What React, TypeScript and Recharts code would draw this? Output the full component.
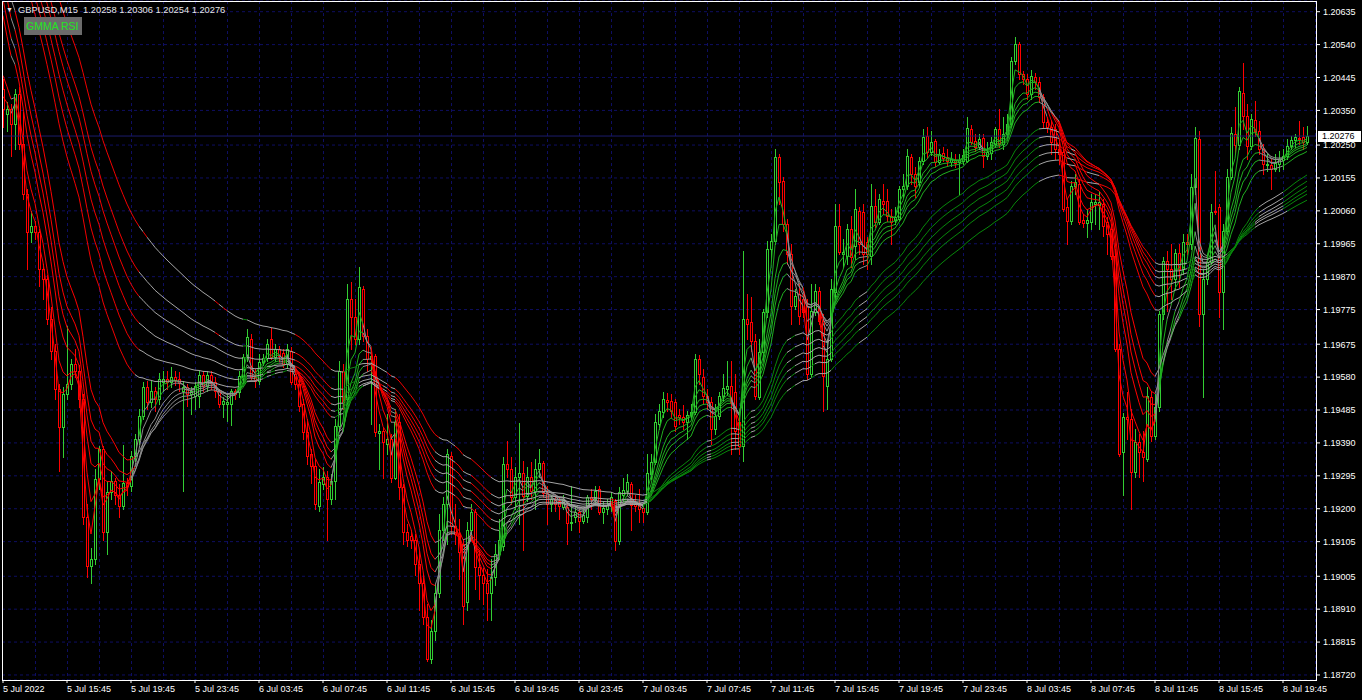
import { ComposedChart, Bar, Line, XAxis, YAxis, CartesianGrid, ReferenceLine } from 'recharts';

// GBPUSD M15, 5 Jul 2022 11:45 .. 8 Jul 2022 21:15, one value per bar
const opens = [
  1.20412, 1.20340, 1.20354, 1.20311, 1.20397, 1.20253, 1.20108, 1.19999, 1.20016, 1.19999,
  1.19892, 1.19863, 1.19747, 1.19655, 1.19545, 1.19435, 1.19530, 1.19559, 1.19617, 1.19597,
  1.19516, 1.19175, 1.19036, 1.19054, 1.19285, 1.19372, 1.19132, 1.19247, 1.19279, 1.19241,
  1.19207, 1.19273, 1.19265, 1.19351, 1.19400, 1.19467, 1.19551, 1.19507, 1.19539, 1.19516,
  1.19565, 1.19574, 1.19565, 1.19580, 1.19574, 1.19539, 1.19551, 1.19530, 1.19525, 1.19525,
  1.19585, 1.19553, 1.19585, 1.19565, 1.19539, 1.19502, 1.19502, 1.19502, 1.19539, 1.19536,
  1.19580, 1.19637, 1.19689, 1.19580, 1.19568, 1.19623, 1.19634, 1.19689, 1.19637, 1.19661,
  1.19649, 1.19617, 1.19655, 1.19588, 1.19559, 1.19502, 1.19421, 1.19357, 1.19322, 1.19207,
  1.19270, 1.19293, 1.19227, 1.19279, 1.19438, 1.19597, 1.19516, 1.19805, 1.19753, 1.19689,
  1.19834, 1.19698, 1.19632, 1.19640, 1.19418, 1.19424, 1.19386, 1.19400, 1.19290, 1.19450,
  1.19262, 1.19132, 1.19120, 1.19111, 1.19039, 1.18987, 1.18886, 1.18765, 1.18846, 1.18958,
  1.19140, 1.19213, 1.19351, 1.19149, 1.19126, 1.19097, 1.18932, 1.19140, 1.19190, 1.19033,
  1.19010, 1.18987, 1.18958, 1.19004, 1.19068, 1.19091, 1.19328, 1.19314, 1.19233, 1.19293,
  1.19302, 1.19236, 1.19293, 1.19250, 1.19314, 1.19331, 1.19244, 1.19213, 1.19227, 1.19221,
  1.19204, 1.19204, 1.19160, 1.19175, 1.19190, 1.19166, 1.19175, 1.19233, 1.19227, 1.19256,
  1.19190, 1.19198, 1.19207, 1.19221, 1.19106, 1.19239, 1.19250, 1.19270, 1.19213, 1.19210,
  1.19201, 1.19190, 1.19299, 1.19334, 1.19444, 1.19478, 1.19513, 1.19510, 1.19507, 1.19470,
  1.19464, 1.19450, 1.19470, 1.19478, 1.19632, 1.19580, 1.19525, 1.19507, 1.19429, 1.19467,
  1.19525, 1.19545, 1.19553, 1.19536, 1.19450, 1.19380, 1.19747, 1.19739, 1.19684, 1.19522,
  1.19652, 1.19767, 1.19950, 1.19973, 1.20215, 1.20146, 1.20022, 1.19935, 1.19785, 1.19819,
  1.19805, 1.19785, 1.19588, 1.19767, 1.19828, 1.19741, 1.19553, 1.19632, 1.19825, 1.20016,
  1.19935, 1.19929, 1.20007, 1.19958, 1.20059, 1.20056, 1.19970, 1.19929, 1.20074, 1.20027,
  1.20088, 1.20088, 1.20045, 1.20033, 1.20036, 1.20123, 1.20132, 1.20215, 1.20166, 1.20143,
  1.20204, 1.20276, 1.20230, 1.20262, 1.20201, 1.20227, 1.20215, 1.20201, 1.20207, 1.20201,
  1.20204, 1.20204, 1.20296, 1.20262, 1.20244, 1.20270, 1.20218, 1.20227, 1.20253, 1.20296,
  1.20253, 1.20282, 1.20311, 1.20493, 1.20542, 1.20455, 1.20441, 1.20397, 1.20447, 1.20432,
  1.20389, 1.20316, 1.20302, 1.20296, 1.20239, 1.20230, 1.20071, 1.20030, 1.20132, 1.20137,
  1.20033, 1.20025, 1.20028, 1.20080, 1.20077, 1.20080, 1.20028, 1.20007, 1.19929, 1.19661,
  1.19363, 1.19464, 1.19458, 1.19305, 1.19392, 1.19363, 1.19343, 1.19522, 1.19409, 1.19493,
  1.19762, 1.19915, 1.19892, 1.19863, 1.19938, 1.19892, 1.19970, 1.19964, 1.20129, 1.20267,
  1.19762, 1.19863, 1.19912, 1.20059, 1.20071, 1.19825, 1.20002, 1.20158, 1.20282, 1.20250,
  1.20400, 1.20334, 1.20247, 1.20322, 1.20290, 1.20239, 1.20192, 1.20192, 1.20181, 1.20195,
  1.20207, 1.20218, 1.20247, 1.20264, 1.20270, 1.20273, 1.20258,
];

const highs = [
  1.20441, 1.20374, 1.20369, 1.20412, 1.20418, 1.20345, 1.20123, 1.20059, 1.20030, 1.20007,
  1.19906, 1.19874, 1.19782, 1.19675, 1.19559, 1.19551, 1.19727, 1.19632, 1.19661, 1.19614,
  1.19530, 1.19213, 1.19088, 1.19314, 1.19380, 1.19380, 1.19276, 1.19308, 1.19290, 1.19270,
  1.19383, 1.19290, 1.19366, 1.19415, 1.19487, 1.19565, 1.19568, 1.19568, 1.19551, 1.19591,
  1.19597, 1.19597, 1.19609, 1.19597, 1.19594, 1.19568, 1.19559, 1.19551, 1.19565, 1.19597,
  1.19597, 1.19597, 1.19597, 1.19580, 1.19545, 1.19522, 1.19530, 1.19545, 1.19545, 1.19597,
  1.19646, 1.19718, 1.19704, 1.19603, 1.19646, 1.19646, 1.19689, 1.19721, 1.19675, 1.19669,
  1.19661, 1.19675, 1.19666, 1.19603, 1.19574, 1.19516, 1.19458, 1.19372, 1.19343, 1.19314,
  1.19320, 1.19308, 1.19299, 1.19458, 1.19626, 1.19617, 1.19848, 1.19854, 1.19805, 1.19898,
  1.19843, 1.19718, 1.19655, 1.19646, 1.19444, 1.19435, 1.19473, 1.19415, 1.19487, 1.19473,
  1.19270, 1.19155, 1.19140, 1.19126, 1.19082, 1.19010, 1.18924, 1.18880, 1.18981, 1.19184,
  1.19233, 1.19372, 1.19363, 1.19213, 1.19169, 1.19111, 1.19163, 1.19213, 1.19198, 1.19082,
  1.19030, 1.19025, 1.19054, 1.19097, 1.19169, 1.19348, 1.19395, 1.19348, 1.19320, 1.19447,
  1.19337, 1.19320, 1.19334, 1.19343, 1.19372, 1.19337, 1.19265, 1.19241, 1.19239, 1.19233,
  1.19241, 1.19219, 1.19265, 1.19204, 1.19204, 1.19198, 1.19241, 1.19256, 1.19265, 1.19265,
  1.19219, 1.19227, 1.19247, 1.19227, 1.19262, 1.19290, 1.19299, 1.19276, 1.19241, 1.19256,
  1.19213, 1.19357, 1.19357, 1.19473, 1.19502, 1.19536, 1.19533, 1.19530, 1.19516, 1.19487,
  1.19499, 1.19481, 1.19502, 1.19646, 1.19643, 1.19603, 1.19545, 1.19522, 1.19502, 1.19536,
  1.19588, 1.19626, 1.19626, 1.19588, 1.19473, 1.19944, 1.19819, 1.19811, 1.19704, 1.19689,
  1.19776, 1.19973, 1.19993, 1.20239, 1.20224, 1.20158, 1.20036, 1.19964, 1.19834, 1.19848,
  1.19819, 1.19805, 1.19848, 1.19848, 1.19840, 1.19762, 1.19689, 1.19863, 1.20080, 1.20080,
  1.19978, 1.20022, 1.20045, 1.20123, 1.20071, 1.20080, 1.19984, 1.20137, 1.20123, 1.20108,
  1.20137, 1.20123, 1.20065, 1.20071, 1.20132, 1.20166, 1.20239, 1.20224, 1.20187, 1.20215,
  1.20296, 1.20302, 1.20290, 1.20267, 1.20239, 1.20244, 1.20239, 1.20230, 1.20224, 1.20224,
  1.20239, 1.20331, 1.20308, 1.20282, 1.20282, 1.20282, 1.20259, 1.20273, 1.20302, 1.20354,
  1.20331, 1.20340, 1.20504, 1.20562, 1.20548, 1.20464, 1.20455, 1.20467, 1.20458, 1.20447,
  1.20397, 1.20331, 1.20319, 1.20311, 1.20259, 1.20244, 1.20094, 1.20146, 1.20166, 1.20152,
  1.20051, 1.20065, 1.20108, 1.20108, 1.20117, 1.20094, 1.20042, 1.20022, 1.19950, 1.19675,
  1.19476, 1.19536, 1.19487, 1.19429, 1.19415, 1.19424, 1.19551, 1.19539, 1.19530, 1.19770,
  1.19926, 1.19944, 1.19964, 1.19950, 1.19964, 1.19993, 1.19993, 1.20166, 1.20302, 1.20290,
  1.19892, 1.19935, 1.20080, 1.20175, 1.20080, 1.20022, 1.20181, 1.20302, 1.20360, 1.20418,
  1.20487, 1.20369, 1.20340, 1.20377, 1.20319, 1.20253, 1.20224, 1.20210, 1.20224, 1.20233,
  1.20239, 1.20267, 1.20276, 1.20282, 1.20319, 1.20302, 1.20306,
];

const lows = [
  1.20302, 1.20290, 1.20218, 1.20239, 1.20239, 1.20094, 1.19892, 1.19970, 1.19978, 1.19843,
  1.19805, 1.19733, 1.19632, 1.19516, 1.19308, 1.19348, 1.19516, 1.19545, 1.19580, 1.19493,
  1.19155, 1.19002, 1.18987, 1.19039, 1.19256, 1.19111, 1.19068, 1.19227, 1.19213, 1.19175,
  1.19198, 1.19241, 1.19250, 1.19337, 1.19386, 1.19458, 1.19487, 1.19493, 1.19481, 1.19502,
  1.19539, 1.19545, 1.19551, 1.19556, 1.19539, 1.19250, 1.19496, 1.19473, 1.19487, 1.19493,
  1.19539, 1.19539, 1.19545, 1.19522, 1.19493, 1.19464, 1.19452, 1.19441, 1.19516, 1.19522,
  1.19559, 1.19626, 1.19574, 1.19551, 1.19559, 1.19614, 1.19626, 1.19632, 1.19626, 1.19626,
  1.19608, 1.19608, 1.19559, 1.19545, 1.19481, 1.19400, 1.19328, 1.19273, 1.19198, 1.19192,
  1.19256, 1.19111, 1.19213, 1.19227, 1.19424, 1.19487, 1.19502, 1.19661, 1.19675, 1.19675,
  1.19684, 1.19597, 1.19444, 1.19409, 1.19314, 1.19290, 1.19357, 1.19276, 1.19285, 1.19227,
  1.19097, 1.19091, 1.19088, 1.19010, 1.18909, 1.18866, 1.18759, 1.18756, 1.18822, 1.18944,
  1.19111, 1.19097, 1.19126, 1.19097, 1.18996, 1.18866, 1.18909, 1.19111, 1.18967, 1.18938,
  1.18924, 1.18880, 1.18880, 1.18981, 1.19054, 1.19082, 1.19291, 1.19213, 1.19198, 1.19155,
  1.19082, 1.19221, 1.19227, 1.19198, 1.19291, 1.19233, 1.19155, 1.19192, 1.19192, 1.19169,
  1.19198, 1.19097, 1.19140, 1.19163, 1.19132, 1.19160, 1.19163, 1.19198, 1.19213, 1.19184,
  1.19160, 1.19184, 1.19192, 1.19082, 1.19097, 1.19221, 1.19241, 1.19140, 1.19192, 1.19163,
  1.19163, 1.19184, 1.19285, 1.19328, 1.19429, 1.19464, 1.19481, 1.19464, 1.19424, 1.19444,
  1.19429, 1.19400, 1.19458, 1.19473, 1.19559, 1.19502, 1.19487, 1.19386, 1.19415, 1.19458,
  1.19510, 1.19530, 1.19357, 1.19372, 1.19357, 1.19337, 1.19689, 1.19655, 1.19516, 1.19516,
  1.19632, 1.19753, 1.19921, 1.19964, 1.20080, 1.20002, 1.19906, 1.19733, 1.19776, 1.19733,
  1.19753, 1.19574, 1.19580, 1.19759, 1.19733, 1.19481, 1.19487, 1.19626, 1.19805, 1.19935,
  1.19898, 1.19906, 1.19898, 1.19921, 1.19935, 1.19906, 1.19892, 1.19906, 1.20013, 1.20022,
  1.20051, 1.20030, 1.19964, 1.20022, 1.20030, 1.20100, 1.20123, 1.20137, 1.20100, 1.20129,
  1.20195, 1.20215, 1.20221, 1.20189, 1.20195, 1.20204, 1.20189, 1.20189, 1.20187, 1.20108,
  1.20195, 1.20201, 1.20253, 1.20233, 1.20239, 1.20187, 1.20210, 1.20210, 1.20244, 1.20244,
  1.20239, 1.20273, 1.20302, 1.20484, 1.20441, 1.20426, 1.20383, 1.20383, 1.20412, 1.20374,
  1.20302, 1.20288, 1.20224, 1.20210, 1.20195, 1.20059, 1.19964, 1.20022, 1.20108, 1.20022,
  1.20013, 1.19984, 1.20007, 1.20022, 1.20007, 1.19987, 1.19935, 1.19921, 1.19655, 1.19351,
  1.19239, 1.19400, 1.19198, 1.19291, 1.19291, 1.19279, 1.19337, 1.19395, 1.19400, 1.19481,
  1.19747, 1.19770, 1.19805, 1.19834, 1.19840, 1.19877, 1.19935, 1.19950, 1.20108, 1.19727,
  1.19522, 1.19848, 1.19906, 1.20051, 1.19753, 1.19718, 1.19993, 1.20152, 1.20224, 1.20239,
  1.20296, 1.20210, 1.20239, 1.20276, 1.20224, 1.20166, 1.20175, 1.20123, 1.20175, 1.20175,
  1.20181, 1.20210, 1.20239, 1.20244, 1.20253, 1.20239, 1.20254,
];

const closes = [
  1.20354, 1.20354, 1.20311, 1.20397, 1.20253, 1.20108, 1.19999, 1.20016, 1.19999, 1.19892,
  1.19863, 1.19747, 1.19655, 1.19545, 1.19435, 1.19530, 1.19559, 1.19617, 1.19597, 1.19516,
  1.19175, 1.19036, 1.19054, 1.19285, 1.19372, 1.19132, 1.19247, 1.19279, 1.19241, 1.19207,
  1.19273, 1.19265, 1.19351, 1.19400, 1.19467, 1.19551, 1.19507, 1.19539, 1.19516, 1.19574,
  1.19574, 1.19565, 1.19580, 1.19571, 1.19562, 1.19551, 1.19530, 1.19539, 1.19553, 1.19585,
  1.19553, 1.19585, 1.19565, 1.19539, 1.19502, 1.19510, 1.19507, 1.19539, 1.19530, 1.19582,
  1.19637, 1.19695, 1.19580, 1.19568, 1.19623, 1.19634, 1.19675, 1.19637, 1.19661, 1.19640,
  1.19617, 1.19661, 1.19565, 1.19559, 1.19496, 1.19421, 1.19351, 1.19322, 1.19213, 1.19276,
  1.19293, 1.19227, 1.19279, 1.19438, 1.19597, 1.19507, 1.19805, 1.19753, 1.19689, 1.19840,
  1.19698, 1.19632, 1.19640, 1.19421, 1.19424, 1.19392, 1.19400, 1.19290, 1.19450, 1.19262,
  1.19132, 1.19111, 1.19111, 1.19039, 1.18987, 1.18886, 1.18765, 1.18846, 1.18958, 1.19140,
  1.19213, 1.19357, 1.19149, 1.19126, 1.19074, 1.18918, 1.19140, 1.19190, 1.19033, 1.19010,
  1.18987, 1.18958, 1.19004, 1.19068, 1.19111, 1.19328, 1.19314, 1.19233, 1.19293, 1.19302,
  1.19236, 1.19293, 1.19250, 1.19314, 1.19331, 1.19244, 1.19213, 1.19227, 1.19213, 1.19207,
  1.19227, 1.19160, 1.19163, 1.19190, 1.19166, 1.19181, 1.19233, 1.19227, 1.19250, 1.19190,
  1.19201, 1.19210, 1.19233, 1.19106, 1.19247, 1.19253, 1.19276, 1.19210, 1.19207, 1.19198,
  1.19190, 1.19302, 1.19334, 1.19450, 1.19481, 1.19516, 1.19507, 1.19481, 1.19438, 1.19464,
  1.19450, 1.19470, 1.19478, 1.19632, 1.19588, 1.19525, 1.19507, 1.19429, 1.19467, 1.19525,
  1.19548, 1.19553, 1.19507, 1.19424, 1.19380, 1.19747, 1.19733, 1.19684, 1.19525, 1.19652,
  1.19767, 1.19950, 1.19973, 1.20215, 1.20143, 1.20022, 1.19935, 1.19785, 1.19814, 1.19756,
  1.19767, 1.19588, 1.19770, 1.19828, 1.19741, 1.19582, 1.19632, 1.19834, 1.20016, 1.19941,
  1.19941, 1.20007, 1.19927, 1.20065, 1.19964, 1.19935, 1.19935, 1.20074, 1.20027, 1.20094,
  1.20080, 1.20045, 1.20027, 1.20042, 1.20123, 1.20132, 1.20218, 1.20166, 1.20132, 1.20204,
  1.20273, 1.20230, 1.20259, 1.20201, 1.20224, 1.20213, 1.20204, 1.20210, 1.20198, 1.20207,
  1.20221, 1.20299, 1.20259, 1.20244, 1.20267, 1.20218, 1.20230, 1.20259, 1.20296, 1.20253,
  1.20282, 1.20311, 1.20493, 1.20542, 1.20455, 1.20441, 1.20397, 1.20449, 1.20432, 1.20389,
  1.20316, 1.20302, 1.20259, 1.20239, 1.20224, 1.20065, 1.20030, 1.20132, 1.20143, 1.20027,
  1.20025, 1.20033, 1.20085, 1.20085, 1.20085, 1.20016, 1.19993, 1.19929, 1.19661, 1.19357,
  1.19464, 1.19458, 1.19305, 1.19392, 1.19363, 1.19348, 1.19525, 1.19409, 1.19493, 1.19762,
  1.19915, 1.19892, 1.19863, 1.19938, 1.19892, 1.19970, 1.19964, 1.20129, 1.20270, 1.19762,
  1.19863, 1.19912, 1.20056, 1.20056, 1.19825, 1.20002, 1.20158, 1.20285, 1.20250, 1.20406,
  1.20334, 1.20247, 1.20325, 1.20290, 1.20239, 1.20195, 1.20195, 1.20181, 1.20198, 1.20210,
  1.20218, 1.20247, 1.20264, 1.20273, 1.20267, 1.20259, 1.20276,
];

// GMMA: six short and six long exponential averages of the close
const emaPeriods = [3, 5, 8, 10, 12, 15, 30, 35, 40, 45, 50, 60];
// average values carried in from the bars before the first visible one
const emaSeeds = [1.20426, 1.20499, 1.20701, 1.20741, 1.20799, 1.20837, 1.20999, 1.21019, 1.21035, 1.2107, 1.2109, 1.2114];
// RSI length used to colour each average (rising / neutral / falling)
const rsiPeriods = [12, 13, 14, 14, 15, 16, 18, 19, 20, 21, 22, 23];

const priceTicks = [
  1.20635, 1.2054, 1.20445, 1.2035, 1.2025, 1.20155, 1.2006, 1.19965, 1.1987, 1.19775, 1.19675,
  1.1958, 1.19485, 1.1939, 1.19295, 1.192, 1.19105, 1.19005, 1.1891, 1.18815, 1.1872,
];
const timeTicks = [0, 16, 32, 48, 64, 80, 96, 112, 128, 144, 160, 176, 192, 208, 224, 240, 256, 272, 288, 304, 320];
const timeLabels = [
  '5 Jul 2022', '5 Jul 15:45', '5 Jul 19:45', '5 Jul 23:45', '6 Jul 03:45', '6 Jul 07:45', '6 Jul 11:45',
  '6 Jul 15:45', '6 Jul 19:45', '6 Jul 23:45', '7 Jul 03:45', '7 Jul 07:45', '7 Jul 11:45', '7 Jul 15:45',
  '7 Jul 19:45', '7 Jul 23:45', '8 Jul 03:45', '8 Jul 07:45', '8 Jul 11:45', '8 Jul 15:45', '8 Jul 19:45',
];
const gridBars = Array.from({ length: 41 }, (_, k) => 8 * (k + 1));

const symbol = 'GBPUSD,M15';
const indicatorName = 'GMMA RSI';
const bid = closes[closes.length - 1];

const FONT = '"Liberation Sans", Arial, sans-serif';
const Y_DOMAIN: [number, number] = [1.187055, 1.206659];
const X_DOMAIN: [number, number] = [-0.25, 328.5];

const palette = {
  short: { up: '#1fae1f', flat: '#8c8c8c', down: '#ff0000' },
  long: { up: '#07860a', flat: '#a4a4a4', down: '#f00000' },
};

function emaSeries(period: number, seed: number) {
  const a = 2 / (period + 1);
  let v = seed;
  return closes.map((c) => (v = v + a * (c - v)));
}

function rsiStates(period: number) {
  let g = 0;
  let l = 0;
  return closes.map((c, i) => {
    const d = c - (i === 0 ? opens[0] : closes[i - 1]);
    g += (Math.max(d, 0) - g) / period;
    l += (Math.max(-d, 0) - l) / period;
    const r = l === 0 ? 100 : 100 - 100 / (1 + g / l);
    return r > 55 ? 'up' : r < 45 ? 'down' : 'flat';
  });
}

const emas = emaPeriods.map((p, k) => emaSeries(p, emaSeeds[k]));

const rows = closes.map((c, i) => {
  const row: any = { i, open: opens[i], high: highs[i], low: lows[i], close: c, range: [lows[i], highs[i]] };
  emas.forEach((e, k) => (row[`ema${k}`] = e[i]));
  return row;
});

function gradientStops(k: number) {
  const states = rsiStates(rsiPeriods[k]);
  const pal: any = k < 6 ? palette.short : palette.long;
  const n = states.length;
  const stops: { o: number; c: string }[] = [];
  let cur = states[1];
  stops.push({ o: 0, c: pal[cur] });
  for (let i = 2; i < n; i++) {
    if (states[i] !== cur) {
      const o = (i - 1) / (n - 1);
      stops.push({ o, c: pal[cur] }, { o, c: pal[states[i]] });
      cur = states[i];
    }
  }
  stops.push({ o: 1, c: pal[cur] });
  return stops;
}

function Candle(props: any) {
  const { x, y, width, height, payload } = props;
  if (x == null || !payload) return null;
  const top = Math.min(y, y + height);
  const h = Math.abs(height);
  const cx = Math.round(x + width / 2);
  const span = payload.high - payload.low;
  const k = span > 0 ? h / span : 0;
  const yOf = (v: number) => top + (payload.high - v) * k;
  const up = payload.close >= payload.open;
  const color = up ? '#32cd32' : '#ff0000';
  const bTop = Math.round(yOf(Math.max(payload.open, payload.close)));
  const bBot = Math.round(yOf(Math.min(payload.open, payload.close)));
  return (
    <g>
      <line x1={cx + 0.5} x2={cx + 0.5} y1={Math.round(top)} y2={Math.round(top + h) + 1} stroke={color} />
      <rect x={cx - 0.5} y={bTop + 0.5} width={2} height={Math.max(bBot - bTop, 0)} fill="#000" stroke={color} />
    </g>
  );
}

const PriceTick = (props: any) => (
  <text x={props.x} y={props.y} dy={3.3} fill="#fff" fontSize={9} fontFamily={FONT} textAnchor="start">
    {props.payload.value.toFixed(5)}
  </text>
);

const TimeTick = (props: any) => {
  const idx = timeTicks.indexOf(props.payload.value);
  return (
    <text x={props.x} y={props.y} dy={6.6} fill="#fff" fontSize={9} fontFamily={FONT} textAnchor="start">
      {timeLabels[idx]}
    </text>
  );
};

export default function App() {
  return (
    <div style={{ position: 'absolute', left: 0, top: 0, width: 1362, height: 700, background: '#000', overflow: 'hidden' }}>
      <ComposedChart width={1362} height={700} data={rows} margin={{ top: 1, right: 0, bottom: 0, left: 2 }}>
        <defs>
          {emaPeriods.map((_, k) => (
            <linearGradient key={k} id={`gmma${k}`} x1="0" y1="0" x2="1" y2="0">
              {gradientStops(k).map((s, j) => (
                <stop key={j} offset={s.o} stopColor={s.c} />
              ))}
            </linearGradient>
          ))}
        </defs>
        <CartesianGrid
          stroke="#0e0e62"
          strokeDasharray="3 3"
          verticalCoordinatesGenerator={(p: any) => {
            const sc = p?.xAxis?.scale;
            if (typeof sc === 'function') return gridBars.map((b) => Math.round(sc(b)) + 0.5);
            const off = p.offset;
            return gridBars.map((b) => Math.round(off.left + ((b - X_DOMAIN[0]) * off.width) / (X_DOMAIN[1] - X_DOMAIN[0])) + 0.5);
          }}
        />
        <XAxis
          dataKey="i"
          type="number"
          domain={X_DOMAIN}
          allowDataOverflow
          ticks={timeTicks}
          interval={0}
          height={20}
          axisLine={false}
          tickLine={{ stroke: '#fff' }}
          tickSize={3}
          tickMargin={2}
          tick={<TimeTick />}
        />
        <YAxis
          orientation="right"
          type="number"
          domain={Y_DOMAIN}
          allowDataOverflow
          ticks={priceTicks}
          interval={0}
          width={45}
          axisLine={false}
          tickLine={{ stroke: '#fff' }}
          tickSize={3}
          tickMargin={3}
          tick={<PriceTick />}
        />
        <ReferenceLine y={bid} stroke="#1c1c6c" />
        <Bar dataKey="range" barSize={3} shape={<Candle />} isAnimationActive={false} />
        {emaPeriods.map((_, k) => (
          <Line
            key={k}
            dataKey={`ema${k}`}
            type="linear"
            dot={false}
            activeDot={false}
            stroke={`url(#gmma${k})`}
            strokeWidth={1}
            isAnimationActive={false}
          />
        ))}
      </ComposedChart>
      <div style={{ position: 'absolute', left: 2, top: 1, width: 1315, height: 680, border: '1px solid #fff', boxSizing: 'border-box', pointerEvents: 'none' }} />
      <div style={{ position: 'absolute', left: 6, top: 5, fontSize: 7, lineHeight: '10px', color: '#e6e6e6', fontFamily: FONT }}>▼</div>
      <div style={{ position: 'absolute', left: 18, top: 5, fontSize: 9.3, lineHeight: '11px', color: '#e6e6e6', fontFamily: FONT, whiteSpace: 'pre' }}>
        {`${symbol}  ${opens[opens.length - 1].toFixed(5)} ${highs[highs.length - 1].toFixed(5)} ${lows[lows.length - 1].toFixed(5)} ${bid.toFixed(5)}`}
      </div>
      <div style={{ position: 'absolute', left: 24, top: 17, width: 58, height: 18, background: '#6b6b6b', color: '#22e622', fontFamily: FONT, fontSize: 10.5, lineHeight: '18px', paddingLeft: 2, boxSizing: 'border-box' }}>
        {indicatorName}
      </div>
      <div style={{ position: 'absolute', left: 1318, top: 131, width: 43, height: 11, background: '#fff', color: '#000', fontFamily: FONT, fontSize: 9, lineHeight: '11px', paddingLeft: 4, boxSizing: 'border-box' }}>
        {bid.toFixed(5)}
      </div>
    </div>
  );
}
